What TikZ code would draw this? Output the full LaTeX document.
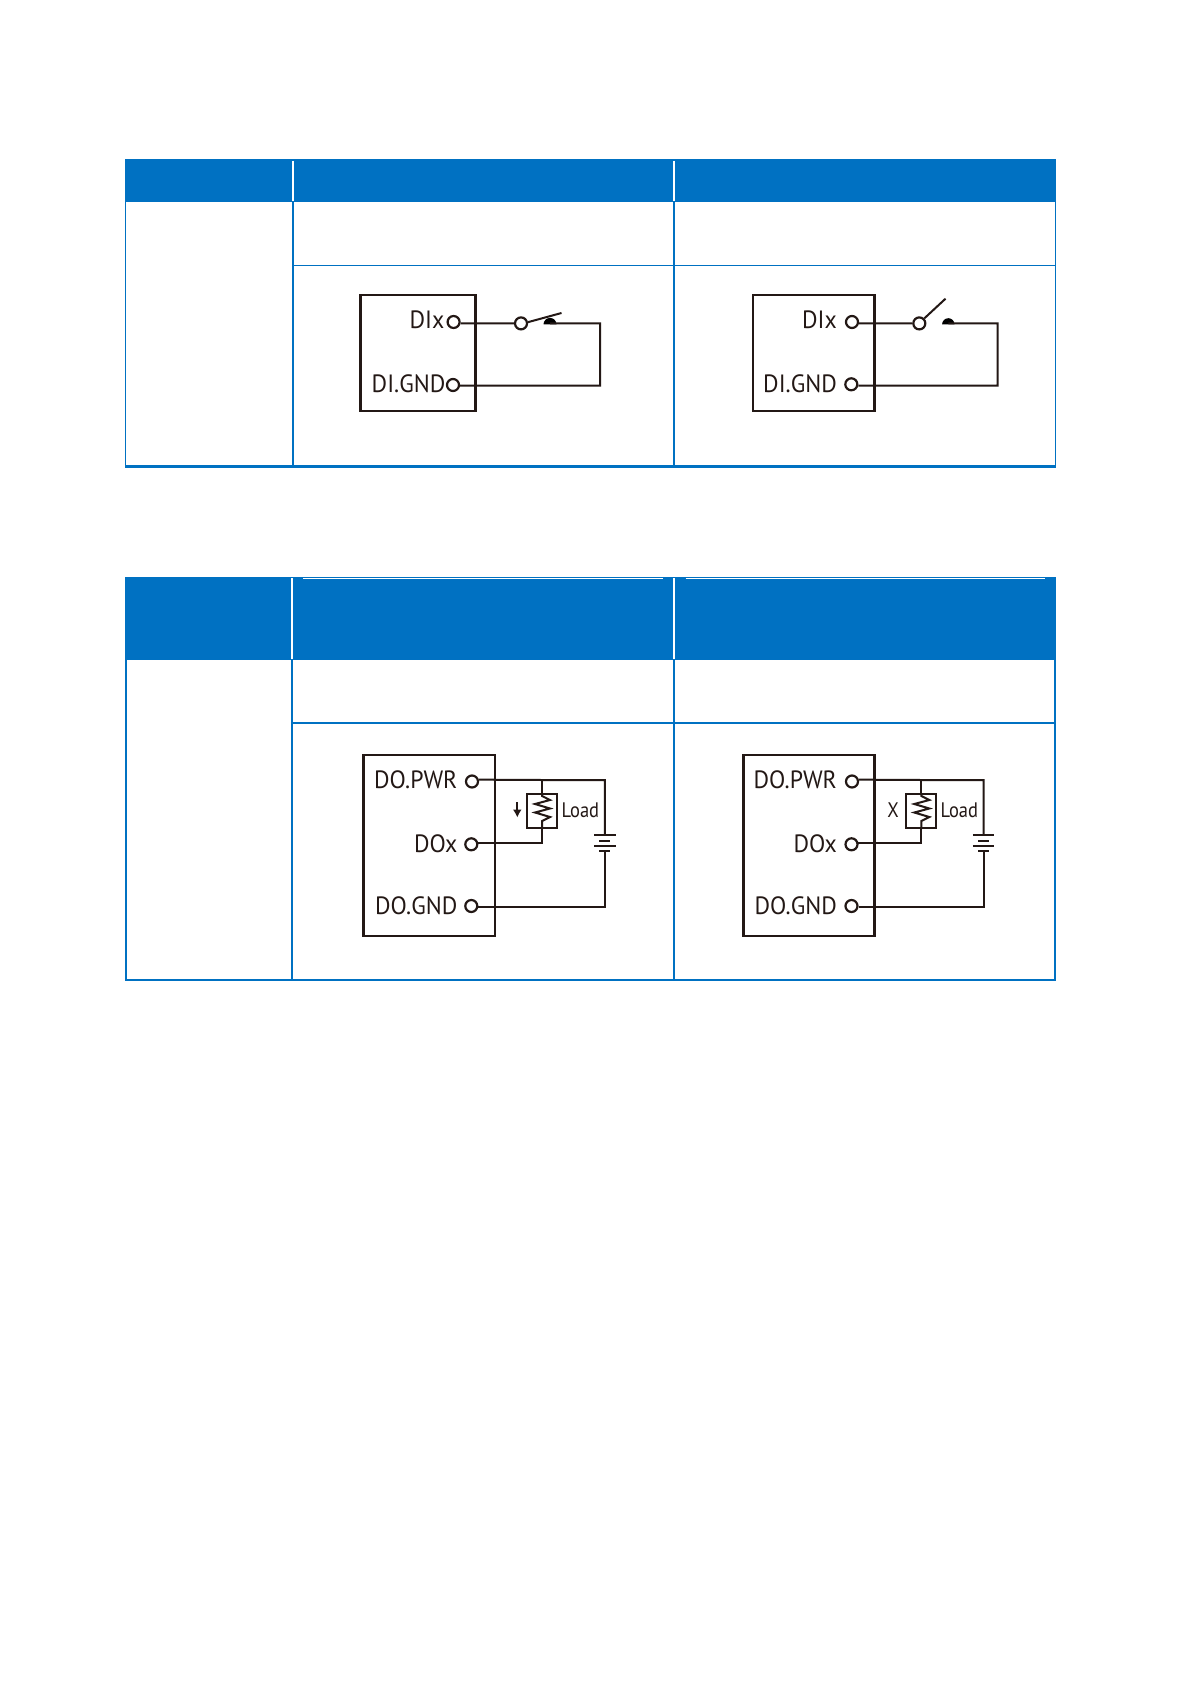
\documentclass[tikz,border=0pt]{standalone}
\usepackage{fontspec}
\setmainfont{PT Sans}
\newfontfamily\pinfont[FakeStretch=0.95]{PT Sans}
\newfontfamily\loadfont[FakeStretch=0.88]{PT Sans}
\usetikzlibrary{positioning,calc,arrows.meta}
\definecolor{tabblue}{RGB}{0,113,194}
\definecolor{inkblack}{RGB}{35,24,21}

\begin{document}
\begin{tikzpicture}[x=1pt,y=-1pt,
  every node/.style={inner sep=0pt,text=inkblack},
  tabline/.style={draw=tabblue,line width=1.5pt},
  tabthick/.style={draw=tabblue,line width=2.3pt},
  headline/.style={draw=white,line width=1.3pt},
  devbox/.style={draw=inkblack,line width=2.8pt,rectangle},
  loadbox/.style={draw=inkblack,line width=2pt,rectangle,minimum width=30pt,minimum height=34pt},
  terminal/.style={draw=inkblack,line width=2.2pt,circle,minimum size=12pt,fill=white},
  wire/.style={draw=inkblack,line width=2pt},
  pinlabel/.style={font=\pinfont\fontsize{25}{25}\selectfont,anchor=east},
  loadlabel/.style={font=\loadfont\fontsize{21}{21}\selectfont}
]

\path[fill=white] (0,0) rectangle (1192,1685);
\useasboundingbox (0,0) rectangle (1192,1685);

% the first table
\fill[tabblue] (125,159) rectangle (1056,202);
\coordinate (a1) at (293,161);
\coordinate (a2) at (674,161);
\coordinate (b1) at (293,467);
\coordinate (b2) at (674,467);
\foreach \i in {1,2} {
  \draw[headline] (a\i) -- ($(a\i)+(0,40)$);
  \draw[tabline] ($(a\i)+(0,41)$) -- (b\i);
}
\draw[tabline] (125.7,202) -- (125.7,467);
\draw[tabline] (1055.3,202) -- (1055.3,467);
\draw[tabline] (293,265.7) -- (1056,265.7);
\draw[tabthick] (125,466.5) -- (1056,466.5);

% the second table
\fill[tabblue] (125,576.5) rectangle (1056,659.5);
\coordinate (c1) at (292,578);
\coordinate (c2) at (674,578);
\coordinate (d1) at (292,980);
\coordinate (d2) at (674,980);
\foreach \i in {1,2} {
  \draw[draw=white,line width=1.8pt] (c\i) -- ($(c\i)+(0,81)$);
  \draw[tabthick] ($(c\i)+(0,81)$) -- (d\i);
}
\draw[draw=white,line width=0.9pt] (303,578.3) -- (663,578.3);
\draw[draw=white,line width=0.9pt] (685.5,578.3) -- (1045,578.3);
\draw[tabthick,line width=1.8pt] (125.8,659) -- (125.8,980);
\draw[tabthick,line width=1.8pt] (1055.2,659) -- (1055.2,980);
\draw[tabthick] (292,723) -- (1056,723);
\draw[tabthick] (125,980) -- (1056,980);

% the switch, closed
\node[devbox,minimum width=115.6pt,minimum height=116pt] (boxA) at (418,353) {};
\node[terminal] (dixA) at (453.6,322) {};
\node[terminal] (gndA) at (453,385) {};
\node[pinlabel] (dixAt) at (444.5,320) {DIx};
\node[pinlabel] (gndAt) at (445.5,384) {DI.GND};
\node[terminal] (swA) at (521,323.4) {};
\coordinate (bladeA) at (561.5,313);
\coordinate (contactA) at (550,323.4);
\draw[wire] (dixA.-12) -- (swA.west);
\draw[wire] (swA.10) -- (bladeA);
\fill[black] ($(contactA)+(-6.5,1)$) arc (180:0:6.5pt) -- cycle;
\draw[wire] (contactA) -- (600,323.4) -- (600,385.6) -- (gndA.-6);

% the switch, open
\node[devbox,minimum width=121.3pt,minimum height=116pt] (boxB) at (813.6,353) {};
\node[terminal] (dixB) at (852,322) {};
\node[terminal] (gndB) at (851.3,384.3) {};
\node[pinlabel] (dixBt) at (837,320) {DIx};
\node[pinlabel] (gndBt) at (837,384) {DI.GND};
\node[terminal] (swB) at (919.3,323.4) {};
\coordinate (bladeB) at (945.5,298.7);
\coordinate (contactB) at (948.3,323.4);
\draw[wire] (dixB.-12) -- (swB.west);
\draw[wire] (swB.45) -- (bladeB);
\fill[black] ($(contactB)+(-6.2,1)$) arc (180:0:6.2pt) -- cycle;
\draw[wire] (contactB) -- (997.7,323.4) -- (997.7,385.6) -- (gndB.-10);

% the load, on
\node[devbox,minimum width=131.3pt,minimum height=181pt] (boxC) at (429.3,845.5) {};
\node[terminal] (pwrC) at (472,781.5) {};
\node[terminal] (doxC) at (471.3,844.3) {};
\node[terminal] (gndC) at (471.3,906) {};
\node[pinlabel] (pwrCt) at (457.5,780) {DO.PWR};
\node[pinlabel] (doxCt) at (457.5,844) {DOx};
\node[pinlabel] (gndCt) at (457.5,905.5) {DO.GND};
\node[loadbox] (loadC) at (542,811) {};
\node[loadlabel,anchor=west] (loadCt) at (561.5,810.5) {Load};
\coordinate (jC) at (542,780);
\coordinate (batCa) at (604.8,835.3);
\coordinate (batCb) at (604.8,851);
\draw[wire] (pwrC.15) -- (jC) -- (604.8,780) -- (batCa);
\draw[wire] (jC) -- (loadC.north);
\draw[wire,line join=miter] (loadC.north) -- ++(0,3) -- ++(8,4) -- ++(-15,4) -- ++(15,4.5) -- ++(-15,4) -- ++(15,4.5) -- ++(-8,4) -- (loadC.south);
\draw[wire] (loadC.south) |- (doxC.12);
\draw[wire] (batCb) |- (gndC.-6);
\draw[wire,-{Latex[length=8pt,width=9pt]}] (517.3,802) -- (517.3,817.5);
\foreach \y/\w in {835.3/10.7,840.7/5.5,845.7/10.7,851/5.5}
  \draw[wire] (604.8-\w,\y) -- (604.8+\w,\y);

% the load, off
\node[devbox,minimum width=131pt,minimum height=181pt] (boxD) at (808.8,845.5) {};
\node[terminal] (pwrD) at (852,781.5) {};
\node[terminal] (doxD) at (851.5,844.3) {};
\node[terminal] (gndD) at (851.5,906) {};
\node[pinlabel] (pwrDt) at (837,780) {DO.PWR};
\node[pinlabel] (doxDt) at (837,844) {DOx};
\node[pinlabel] (gndDt) at (837,905.5) {DO.GND};
\node[loadbox] (loadD) at (921.3,811) {};
\node[loadlabel,anchor=west] (loadDt) at (940.4,810.5) {Load};
\node[loadlabel] (offD) at (893,810.5) {X};
\coordinate (jD) at (921.3,780);
\coordinate (batDa) at (983.6,835.3);
\coordinate (batDb) at (983.6,851);
\draw[wire] (pwrD.15) -- (jD) -- (983.6,780) -- (batDa);
\draw[wire] (jD) -- (loadD.north);
\draw[wire,line join=miter] (loadD.north) -- ++(0,3) -- ++(8,4) -- ++(-15,4) -- ++(15,4.5) -- ++(-15,4) -- ++(15,4.5) -- ++(-8,4) -- (loadD.south);
\draw[wire] (loadD.south) |- (doxD.12);
\draw[wire] (batDb) |- (gndD.-6);
\foreach \y/\w in {835.3/10.7,840.7/5.5,845.7/10.7,851/5.5}
  \draw[wire] (983.6-\w,\y) -- (983.6+\w,\y);

\end{tikzpicture}
\end{document}
